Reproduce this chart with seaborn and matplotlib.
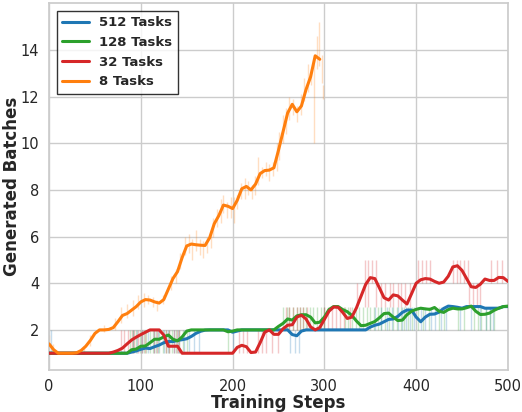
import matplotlib
matplotlib.use("Agg")
import matplotlib.pyplot as plt
import seaborn as sns
import pandas as pd

# smoothed curves, read every 5 training steps
steps = list(range(0, 505, 5))
steps_8 = list(range(0, 300, 5))

blue_512 = [
    1.0, 1.0, 1.0, 1.0, 1.0, 1.0, 1.0, 1.0, 1.0, 1.0, 1.0, 1.0, 1.0, 1.0, 1.0, 1.0, 1.0, 1.0,
    1.05, 1.1, 1.17, 1.22, 1.2, 1.28, 1.35, 1.45, 1.5, 1.5, 1.55, 1.58, 1.62, 1.72, 1.85, 1.94, 1.99,
    2.0, 2.0, 2.0, 2.0, 2.0,
    1.9, 1.95,
    2.0, 2.0, 2.0, 2.0, 2.0, 2.0, 2.0, 2.0, 2.0, 2.0, 2.0,
    1.8, 1.75, 1.95,
    2.0, 2.0, 2.0, 2.0, 2.0, 2.0, 2.0, 2.0, 2.0, 2.0, 2.0, 2.0, 2.0, 2.0,
    2.12, 2.2, 2.25, 2.35, 2.45, 2.47, 2.58, 2.75, 2.85, 2.85,
    2.55, 2.35, 2.55, 2.67, 2.68, 2.76, 2.92, 3.02, 3.0, 2.97,
    2.93, 3.0, 3.0, 3.0, 3.0, 2.93, 2.93, 2.93, 2.93, 3.0, 3.0,
]
green_128 = [
    1.0, 1.0, 1.0, 1.0, 1.0, 1.0, 1.0, 1.0, 1.0, 1.0, 1.0, 1.0, 1.0, 1.0, 1.0, 1.0, 1.0, 1.0,
    1.15, 1.18, 1.3, 1.31, 1.45, 1.6, 1.6, 1.7, 1.78, 1.6, 1.53, 1.7, 1.95, 2.0,
    2.0, 2.0, 2.0, 2.0, 2.0, 2.0, 2.0,
    1.92, 1.95,
    2.0, 2.0, 2.0, 2.0, 2.0, 2.0, 2.0, 2.0, 2.0,
    2.15, 2.28, 2.47, 2.42, 2.6, 2.65, 2.65, 2.55, 2.3, 2.33, 2.55,
    2.87, 3.0, 3.0, 2.87, 2.78, 2.62, 2.38, 2.18, 2.2, 2.28,
    2.36, 2.52, 2.7, 2.72, 2.55, 2.4, 2.42, 2.65, 2.8, 2.88,
    2.93, 2.9, 2.88, 2.96, 2.8, 2.75, 2.87, 2.93, 2.9, 2.9,
    2.95, 3.02, 2.8, 2.66, 2.67, 2.72, 2.84, 2.93, 3.0, 3.02,
]
red_32 = [
    1.0, 1.0, 1.0, 1.0, 1.0, 1.0, 1.0, 1.0, 1.0, 1.0, 1.0, 1.0, 1.0, 1.0,
    1.05, 1.12, 1.22, 1.4, 1.57, 1.69, 1.8, 1.9, 2.0, 2.0, 2.0, 1.78, 1.3, 1.3, 1.3, 1.0,
    1.0, 1.0, 1.0, 1.0, 1.0, 1.0, 1.0, 1.0, 1.0, 1.0, 1.0,
    1.25, 1.34, 1.28, 1.03, 1.05, 1.45, 1.9, 2.0, 1.81, 1.81,
    2.05, 2.2, 2.22, 2.55, 2.63, 2.47, 2.13, 2.0, 2.1, 2.45,
    2.8, 2.98, 2.97, 2.75, 2.49, 2.55, 2.95, 3.45, 3.95, 4.24,
    4.2, 3.8, 3.38, 3.28, 3.5, 3.46, 3.28, 3.11, 3.55, 4.0,
    4.15, 4.2, 4.18, 4.08, 4.0, 4.05, 4.3, 4.7, 4.75, 4.55,
    4.2, 3.85, 3.82, 3.96, 4.18, 4.12, 4.12, 4.25, 4.24, 4.08,
]
orange_8 = [
    1.4, 1.15, 1.0, 1.0, 1.0, 1.0, 1.02, 1.12, 1.3, 1.55,
    1.85, 2.0, 2.0, 2.02, 2.1, 2.35, 2.62, 2.7, 2.85, 3.0,
    3.2, 3.3, 3.28, 3.2, 3.15, 3.3, 3.75, 4.2, 4.5, 5.1,
    5.6, 5.68, 5.65, 5.63, 5.62, 5.95, 6.55, 6.9, 7.35, 7.3,
    7.2, 7.55, 8.05, 8.15, 8.0, 8.25, 8.7, 8.83, 8.85, 8.95,
    9.7, 10.5, 11.3, 11.67, 11.35, 11.6, 12.3, 12.85, 13.75, 13.6,
]

# raw (unsmoothed) jumps: (step, low, high)
raw_512 = [(2, 1, 2), (92, 1, 2), (96, 1, 2), (101, 1, 2), (108, 1, 2), (114, 1, 2), (119, 1, 2),
           (125, 1, 2), (130, 1, 2), (136, 1, 2), (141, 1, 2), (147, 1, 2), (152, 1, 2), (158, 1, 2),
           (163, 1, 2), (200, 1, 2), (263, 1, 2), (268, 1, 2), (272, 1, 2), (355, 2, 3), (362, 2, 3),
           (368, 2, 3), (374, 2, 3), (380, 2, 3), (385, 2, 3), (389, 2, 3), (393, 2, 3), (398, 2, 3),
           (405, 2, 3), (410, 2, 3), (416, 2, 3), (421, 2, 3), (427, 2, 3), (432, 2, 3), (448, 2, 3),
           (460, 2, 3), (470, 2, 3), (476, 2, 3), (480, 2, 3), (484, 2, 3)]
raw_128 = [(88, 1, 2), (91, 1, 2), (95, 1, 2), (99, 1, 2), (103, 1, 2), (106, 1, 2), (110, 1, 2),
           (113, 1, 2), (117, 1, 2), (120, 1, 2), (124, 1, 2), (127, 1, 2), (131, 1, 2), (134, 1, 2),
           (138, 1, 2), (142, 1, 2), (146, 1, 2), (150, 1, 2), (195, 1, 2), (255, 2, 3), (259, 2, 3),
           (262, 2, 3), (266, 2, 3), (270, 2, 3), (273, 2, 3), (277, 2, 3), (280, 2, 3), (284, 2, 3),
           (288, 2, 3), (292, 2, 3), (296, 2, 3), (300, 2, 3), (322, 2, 3), (326, 2, 3), (330, 2, 3),
           (334, 2, 3), (338, 2, 3), (342, 2, 3), (346, 2, 3), (350, 2, 3), (354, 2, 3), (358, 2, 3),
           (362, 2, 3), (366, 2, 3), (370, 2, 3), (375, 2, 3), (379, 2, 3), (383, 2, 3), (387, 2, 3),
           (391, 2, 3), (395, 2, 3), (402, 2, 3), (408, 2, 3), (414, 2, 3), (425, 2, 3), (430, 2, 3),
           (446, 2, 3), (452, 2, 3), (463, 2, 3), (467, 2, 3), (471, 2, 3), (476, 2, 3), (480, 2, 3),
           (485, 2, 3)]
raw_32 = [(78, 1, 2), (82, 1, 2), (86, 1, 2), (90, 1, 2), (93, 1, 2), (97, 1, 2), (101, 1, 2),
          (105, 1, 2), (114, 1, 2), (118, 1, 2), (127, 1, 2), (131, 1, 2), (136, 1, 2), (139, 1, 2),
          (142, 1, 2), (207, 1, 2), (211, 1, 2), (216, 1, 2), (228, 1, 2), (232, 1, 2), (236, 1, 2),
          (243, 1, 2), (250, 1, 2), (258, 2, 3), (262, 2, 3), (266, 2, 3), (270, 2, 3), (273, 2, 3),
          (277, 2, 3), (281, 2, 3), (300, 2, 3), (304, 2, 3), (308, 2, 3), (313, 2, 3), (317, 2, 3),
          (321, 2, 3), (328, 2, 3), (336, 3, 4), (344, 3, 5), (348, 3, 5), (352, 4, 5), (356, 3, 5),
          (362, 3, 4), (366, 3, 4), (371, 3, 4), (375, 3, 4), (380, 3, 4), (384, 3, 4), (388, 3, 4),
          (393, 3, 4), (402, 4, 5), (406, 4, 5), (411, 4, 5), (415, 4, 5), (440, 4, 5), (444, 4, 5),
          (448, 4, 5), (452, 4, 5), (456, 4, 5), (458, 3, 4), (462, 3, 4), (466, 3, 4), (470, 3, 4),
          (482, 4, 5), (488, 4, 5), (494, 4, 5)]
raw_8 = [(0, 1.3, 1.8), (4, 1.0, 1.4), (38, 1.0, 1.3), (45, 1.3, 1.8), (60, 1.9, 2.2), (72, 2.0, 2.5),
         (78, 2.3, 3.0), (85, 2.5, 3.1), (92, 2.6, 3.3), (97, 2.9, 3.5), (103, 3.0, 3.6), (108, 3.1, 3.5),
         (113, 3.0, 3.4), (118, 2.8, 3.3), (124, 3.1, 3.5), (133, 3.7, 4.3), (138, 4.0, 4.6),
         (143, 4.6, 5.3), (148, 5.2, 6.0), (152, 5.3, 6.1), (156, 5.0, 5.9), (160, 5.4, 6.3),
         (164, 5.2, 5.9), (168, 5.1, 5.8), (172, 5.3, 6.0), (176, 5.5, 6.2), (179, 6.0, 6.8),
         (183, 6.4, 7.2), (187, 6.6, 7.6), (190, 7.0, 7.8), (194, 6.8, 7.5), (198, 6.8, 7.7),
         (202, 6.6, 7.7), (205, 7.2, 7.8), (209, 7.6, 8.3), (213, 7.6, 8.5), (217, 7.8, 8.4),
         (221, 7.6, 8.2), (224, 7.8, 8.6), (228, 8.2, 9.4), (232, 8.5, 9.0), (236, 8.6, 9.2),
         (240, 8.4, 9.1), (244, 8.6, 9.2), (248, 8.8, 10.0), (251, 9.3, 10.5), (255, 10.0, 11.2),
         (258, 10.4, 11.5), (262, 11.0, 12.0), (266, 11.2, 11.9), (270, 10.9, 11.6), (274, 11.2, 12.1),
         (278, 11.8, 12.8), (282, 12.2, 13.4), (285, 12.5, 13.2), (289, 10.0, 13.6), (292, 13.2, 14.6),
         (294, 13.3, 15.2), (297, 12.6, 13.8), (299, 11.9, 12.5)]

labels = ["512 Tasks", "128 Tasks", "32 Tasks", "8 Tasks"]
colors = ["#1f77b4", "#2ca02c", "#d62728", "#ff7f0e"]

df = pd.concat([
    pd.DataFrame({"step": steps, "batches": blue_512, "run": labels[0]}),
    pd.DataFrame({"step": steps, "batches": green_128, "run": labels[1]}),
    pd.DataFrame({"step": steps, "batches": red_32, "run": labels[2]}),
    pd.DataFrame({"step": steps_8, "batches": orange_8, "run": labels[3]}),
])

sns.set_theme(style="whitegrid")
fig, ax = plt.subplots(figsize=(5.22, 4.12), dpi=100)
fig.subplots_adjust(left=0.094, right=0.973, top=0.992, bottom=0.103)

# faint raw traces
for raw, c in zip([raw_512, raw_128, raw_32, raw_8], colors):
    ax.vlines([r[0] for r in raw], [r[1] for r in raw], [r[2] for r in raw],
              color=c, alpha=0.25, lw=1.0, zorder=1)

sns.lineplot(data=df, x="step", y="batches", hue="run", hue_order=labels,
             palette=dict(zip(labels, colors)), lw=2.2, ax=ax, zorder=3)

ax.set_xlim(0, 500)
ax.set_ylim(0.3, 16.0)
ax.set_yticks([2, 4, 6, 8, 10, 12, 14])
ax.set_xlabel("Training Steps", fontsize=12, fontweight="bold", labelpad=0)
ax.set_ylabel("Generated Batches", fontsize=12, fontweight="bold", labelpad=0)
ax.tick_params(labelsize=10.5, pad=1)

leg = ax.legend(loc="upper left", prop={"weight": "bold", "size": 9.5}, frameon=True,
                fancybox=False, edgecolor="black", handlelength=2.0, borderaxespad=0.6)
for h in leg.get_lines():
    h.set_linewidth(2.2)
leg.get_frame().set_linewidth(1.0)

plt.savefig("out.png", dpi=100)
